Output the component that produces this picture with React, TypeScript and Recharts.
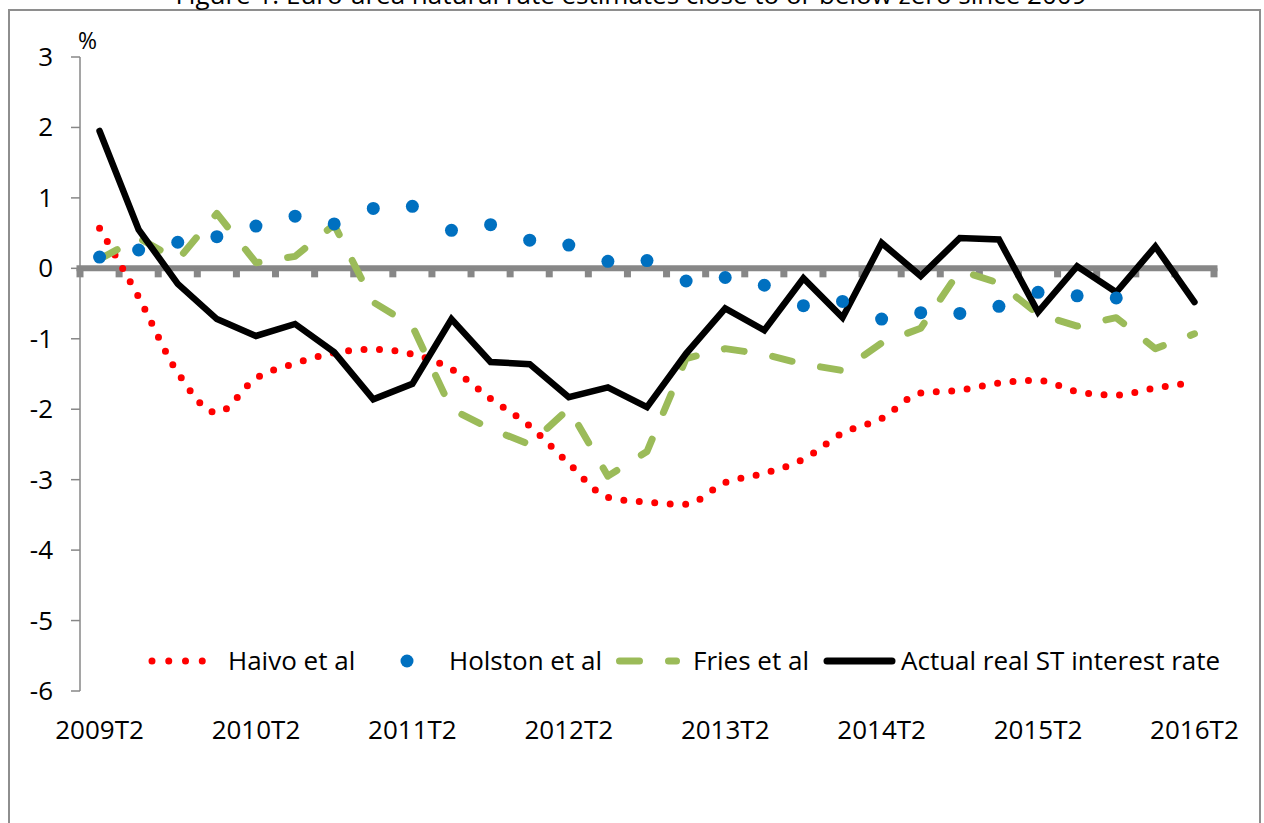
import React from 'react';
import { LineChart, Line, XAxis, YAxis, ReferenceLine } from 'recharts';

const quarters = [
  '2009T2', '2009T3', '2009T4', '2010T1',
  '2010T2', '2010T3', '2010T4', '2011T1',
  '2011T2', '2011T3', '2011T4', '2012T1',
  '2012T2', '2012T3', '2012T4', '2013T1',
  '2013T2', '2013T3', '2013T4', '2014T1',
  '2014T2', '2014T3', '2014T4', '2015T1',
  '2015T2', '2015T3', '2015T4', '2016T1',
  '2016T2',
];

const xTickLabels = ['2009T2', '2010T2', '2011T2', '2012T2', '2013T2', '2014T2', '2015T2', '2016T2'];
const yTicks = [3, 2, 1, 0, -1, -2, -3, -4, -5, -6];

const haivo = [
  0.57, -0.41, -1.48, -2.05, -1.56, -1.35, -1.2, -1.15, -1.22, -1.43,
  -1.85, -2.24, -2.77, -3.25, -3.32, -3.35, -3.04, -2.91, -2.71, -2.34,
  -2.13, -1.77, -1.73, -1.63, -1.59, -1.75, -1.8, -1.7, -1.62,
];

const holston = [
  0.16, 0.26, 0.37, 0.45, 0.6, 0.74, 0.63, 0.85, 0.88, 0.54,
  0.62, 0.4, 0.33, 0.1, 0.11, -0.18, -0.13, -0.24, -0.53, -0.47,
  -0.72, -0.63, -0.64, -0.54, -0.34, -0.39, -0.42, null, null,
];

const fries = [
  0.13, 0.43, 0.12, 0.78, 0.08, 0.17, 0.62, -0.48, -0.82, -2.0,
  -2.28, -2.5, -1.99, -2.95, -2.6, -1.28, -1.14, -1.22, -1.36, -1.45,
  -1.06, -0.85, -0.03, -0.21, -0.65, -0.82, -0.7, -1.14, -0.93,
];

const actual = [
  1.95, 0.55, -0.22, -0.72, -0.96, -0.79, -1.19, -1.86, -1.64, -0.72,
  -1.33, -1.36, -1.83, -1.69, -1.97, -1.21, -0.57, -0.88, -0.14, -0.7,
  0.36, -0.11, 0.43, 0.41, -0.62, 0.03, -0.34, 0.31, -0.48,
];

const seriesNames = ['Haivo et al', 'Holston et al', 'Fries et al', 'Actual real ST interest rate'];

const data = quarters.map((q, i) => ({
  q,
  haivo: haivo[i],
  holston: holston[i],
  fries: fries[i],
  actual: actual[i],
}));

const FONT = "'Open Sans', 'DejaVu Sans', sans-serif";
const RED = '#FF0000';
const BLUE = '#0070C0';
const GREEN = '#9BBB59';
const BLACK = '#000000';
const GRAY = '#878787';

const ZeroLine = (props: any) => {
  const { x1, y1, x2, y2 } = props;
  const n = quarters.length;
  const step = (x2 - x1) / n;
  const marks = [];
  for (let k = 0; k <= n; k++) {
    marks.push(
      <rect key={k} x={x1 + k * step - 3.5} y={y1} width={7} height={9} fill={GRAY} />
    );
  }
  return (
    <g>
      <line x1={x1 - 3.5} y1={y1} x2={x2 + 3.5} y2={y2} stroke={GRAY} strokeWidth={6} />
      {marks}
    </g>
  );
};

const XTick = (props: any) => {
  const { x, y, payload } = props;
  return (
    <text x={x} y={y + 48} textAnchor="middle" fontFamily={FONT} fontSize={26} fill="#000">
      {payload.value}
    </text>
  );
};

const YTick = (props: any) => {
  const { x, y, payload } = props;
  return (
    <text x={x} y={y + 9} textAnchor="end" fontFamily={FONT} fontSize={26} fill="#000">
      {payload.value}
    </text>
  );
};

const LegendOverlay = () => {
  const ty = 670;
  const ky = 661;
  return (
    <svg
      width={1264}
      height={823}
      style={{ position: 'absolute', left: 0, top: 0, pointerEvents: 'none' }}
    >
      <line x1={152} y1={ky} x2={219} y2={ky} stroke={RED} strokeWidth={7} strokeDasharray="0 16.75" strokeLinecap="round" />
      <text x={228} y={ty} fontFamily={FONT} fontSize={26} fill="#000">{seriesNames[0]}</text>
      <circle cx={407} cy={ky} r={6.5} fill={BLUE} />
      <text x={449} y={ty} fontFamily={FONT} fontSize={26} fill="#000">{seriesNames[1]}</text>
      <line x1={619.5} y1={ky} x2={676.5} y2={ky} stroke={GREEN} strokeWidth={7} strokeDasharray="20 29" strokeLinecap="round" />
      <text x={693} y={ty} fontFamily={FONT} fontSize={26} fill="#000">{seriesNames[2]}</text>
      <line x1={827} y1={ky} x2={892} y2={ky} stroke={BLACK} strokeWidth={7} strokeLinecap="round" />
      <text x={901} y={ty} fontFamily={FONT} fontSize={26} fill="#000">{seriesNames[3]}</text>
    </svg>
  );
};

export default function App() {
  return (
    <div
      style={{
        position: 'fixed',
        left: 0,
        top: 0,
        width: 1264,
        height: 823,
        background: '#fff',
        overflow: 'hidden',
      }}
    >
      <div
        style={{
          position: 'absolute',
          left: 8,
          top: 9,
          width: 1253,
          height: 900,
          border: '2px solid #8E8E8E',
          boxSizing: 'border-box',
        }}
      />
      <svg width={1264} height={823} style={{ position: 'absolute', left: 0, top: 0 }}>
        <text x={631} y={4} textAnchor="middle" fontFamily={FONT} fontSize={26} fill="#000">
          Figure 1: Euro-area natural rate estimates close to or below zero since 2009
        </text>
        <text x={78} y={49} fontFamily={FONT} fontSize={23} fill="#000">%</text>
      </svg>
      <div style={{ position: 'absolute', left: 0, top: 0 }}>
        <LineChart
          width={1264}
          height={823}
          data={data}
          margin={{ top: 57, right: 50, bottom: 92, left: 8 }}
        >
          <XAxis
            dataKey="q"
            scale="band"
            ticks={xTickLabels}
            interval={0}
            axisLine={false}
            tickLine={false}
            tickSize={0}
            tickMargin={0}
            height={40}
            tick={<XTick />}
          />
          <YAxis
            domain={[-6, 3]}
            ticks={yTicks}
            interval={0}
            width={72}
            axisLine={{ stroke: GRAY, strokeWidth: 1.5 }}
            tickLine={{ stroke: GRAY, strokeWidth: 1.5 }}
            tickSize={9}
            tickMargin={18}
            tick={<YTick />}
          />
          <ReferenceLine y={0} shape={ZeroLine} />
          <Line
            dataKey="haivo"
            type="monotone"
            stroke={RED}
            strokeWidth={7}
            strokeDasharray="0 15.5"
            strokeLinecap="round"
            dot={false}
            activeDot={false}
            isAnimationActive={false}
          />
          <Line
            dataKey="holston"
            type="linear"
            stroke="none"
            dot={{ r: 6.5, fill: BLUE, stroke: 'none' }}
            activeDot={false}
            isAnimationActive={false}
          />
          <Line
            dataKey="fries"
            type="linear"
            stroke={GREEN}
            strokeWidth={7}
            strokeDasharray="20 29"
            strokeLinecap="round"
            strokeLinejoin="round"
            dot={false}
            activeDot={false}
            isAnimationActive={false}
          />
          <Line
            dataKey="actual"
            type="linear"
            stroke={BLACK}
            strokeWidth={6.5}
            strokeLinejoin="miter"
            strokeLinecap="round"
            dot={false}
            activeDot={false}
            isAnimationActive={false}
          />
        </LineChart>
      </div>
      <LegendOverlay />
    </div>
  );
}
